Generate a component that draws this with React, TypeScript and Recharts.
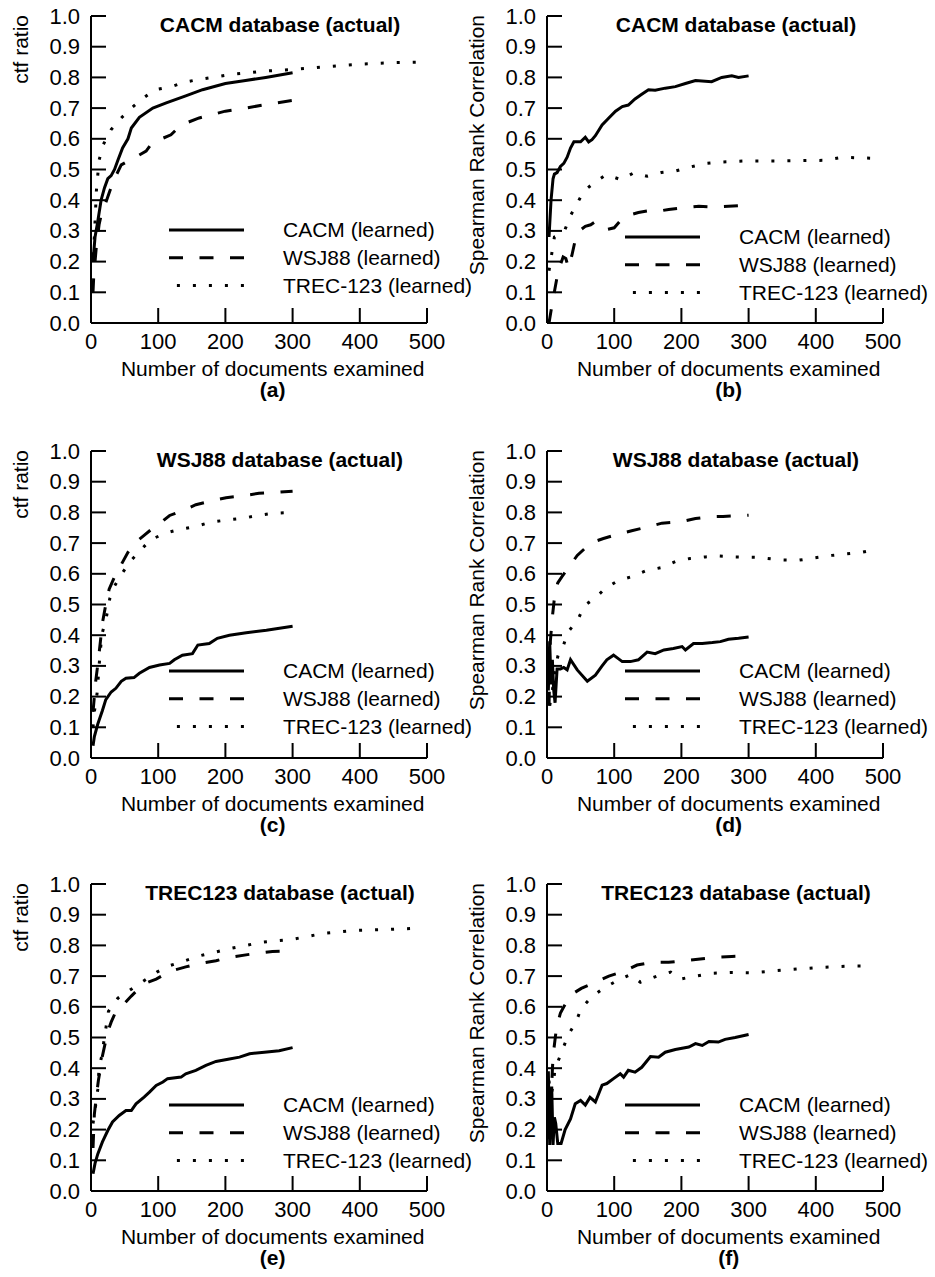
import React from "react";
import { LineChart, Line, XAxis, YAxis, Legend, Label } from "recharts";

const FONT = '"Liberation Sans", Arial, Helvetica, sans-serif';

const X_TICKS = [0, 100, 200, 300, 400, 500];
const Y_TICKS = [0, 0.1, 0.2, 0.3, 0.4, 0.5, 0.6, 0.7, 0.8, 0.9, 1.0];
const SERIES_NAMES = ["CACM (learned)", "WSJ88 (learned)", "TREC-123 (learned)"];

// [documents examined, value]
// (a) ctf ratio, CACM database
const A_CACM = [[3,0.20],[6,0.28],[10,0.33],[15,0.40],[20,0.44],[25,0.47],[30,0.48],[35,0.50],[40,0.53],[47,0.57],[55,0.60],[60,0.635],[72,0.67],[92,0.70],[112,0.717],[141,0.74],[166,0.76],[200,0.78],[230,0.79],[260,0.80],[300,0.815]];
const A_WSJ = [[3,0.10],[4,0.15],[8,0.25],[12,0.32],[15,0.35],[20,0.38],[28,0.43],[35,0.47],[45,0.515],[57,0.53],[70,0.545],[82,0.56],[92,0.59],[105,0.60],[119,0.613],[134,0.645],[161,0.668],[200,0.69],[230,0.70],[261,0.712],[300,0.725]];
const A_TREC = [[3,0.22],[5,0.28],[6,0.33],[7,0.38],[8,0.43],[10,0.48],[12,0.53],[18,0.58],[30,0.63],[45,0.668],[60,0.70],[78,0.733],[95,0.76],[120,0.77],[140,0.785],[165,0.795],[190,0.803],[210,0.81],[235,0.815],[255,0.82],[300,0.826],[350,0.835],[400,0.843],[450,0.848],[500,0.85]];

// (b) Spearman, CACM database
const B_CACM = [[3,0.28],[6,0.40],[9,0.47],[11,0.485],[15,0.49],[20,0.51],[25,0.52],[30,0.54],[35,0.57],[40,0.59],[50,0.59],[57,0.605],[62,0.59],[67,0.597],[72,0.61],[82,0.645],[92,0.668],[102,0.69],[112,0.705],[121,0.71],[131,0.73],[141,0.745],[151,0.76],[161,0.758],[176,0.765],[191,0.77],[206,0.78],[221,0.79],[245,0.786],[260,0.80],[275,0.805],[285,0.80],[300,0.805]];
const B_WSJ = [[3,0.0],[6,0.04],[10,0.09],[15,0.15],[20,0.19],[24,0.215],[28,0.21],[32,0.18],[37,0.22],[42,0.27],[48,0.30],[57,0.315],[65,0.32],[72,0.33],[80,0.32],[90,0.305],[100,0.31],[110,0.335],[120,0.35],[136,0.36],[150,0.365],[160,0.362],[181,0.37],[201,0.375],[226,0.38],[248,0.378],[270,0.38],[300,0.384]];
const B_TREC = [[3,0.17],[7,0.225],[11,0.28],[18,0.285],[26,0.30],[35,0.35],[45,0.39],[55,0.43],[72,0.46],[88,0.483],[110,0.467],[129,0.489],[149,0.478],[170,0.49],[191,0.495],[211,0.507],[236,0.52],[255,0.524],[296,0.528],[354,0.528],[414,0.53],[440,0.54],[490,0.536]];

// (c) ctf ratio, WSJ88 database
const C_CACM = [[3,0.04],[5,0.07],[10,0.11],[17,0.155],[22,0.19],[30,0.215],[37,0.227],[45,0.25],[52,0.26],[64,0.262],[72,0.276],[87,0.295],[102,0.303],[117,0.308],[124,0.32],[136,0.335],[151,0.34],[159,0.368],[176,0.373],[188,0.39],[206,0.40],[231,0.408],[261,0.416],[300,0.429]];
const C_WSJ = [[3,0.15],[5,0.20],[7,0.25],[11,0.32],[14,0.38],[17,0.44],[22,0.50],[27,0.55],[35,0.59],[45,0.63],[55,0.67],[65,0.70],[79,0.725],[90,0.745],[100,0.76],[117,0.79],[141,0.81],[156,0.825],[184,0.84],[201,0.848],[228,0.855],[250,0.862],[275,0.865],[300,0.869]];
const C_TREC = [[3,0.10],[5,0.15],[9,0.21],[12,0.30],[16,0.40],[23,0.46],[28,0.52],[35,0.56],[46,0.60],[58,0.64],[72,0.672],[88,0.71],[110,0.732],[133,0.745],[155,0.754],[178,0.768],[201,0.775],[224,0.78],[248,0.79],[271,0.797],[300,0.80]];

// (d) Spearman, WSJ88 database
const D_CACM = [[2,0.22],[4,0.38],[6,0.24],[8,0.32],[10,0.22],[12,0.18],[15,0.29],[20,0.29],[25,0.295],[30,0.287],[35,0.32],[45,0.287],[60,0.25],[72,0.27],[82,0.30],[89,0.32],[99,0.335],[112,0.314],[124,0.314],[136,0.32],[149,0.345],[161,0.34],[174,0.352],[188,0.357],[201,0.363],[206,0.352],[218,0.373],[231,0.373],[246,0.376],[258,0.379],[270,0.387],[285,0.39],[300,0.394]];
const D_WSJ = [[3,0.17],[5,0.38],[8,0.46],[12,0.54],[16,0.57],[22,0.59],[32,0.62],[45,0.66],[55,0.68],[64,0.70],[84,0.715],[107,0.73],[126,0.74],[154,0.755],[171,0.765],[201,0.77],[221,0.78],[243,0.786],[262,0.787],[300,0.791]];
const D_TREC = [[4,0.17],[8,0.22],[12,0.28],[16,0.33],[20,0.36],[25,0.37],[31,0.41],[46,0.45],[55,0.495],[72,0.522],[87,0.553],[106,0.578],[125,0.59],[147,0.61],[170,0.62],[191,0.64],[213,0.65],[236,0.655],[255,0.658],[280,0.655],[310,0.654],[349,0.645],[374,0.644],[424,0.66],[468,0.67],[491,0.68]];

// (e) ctf ratio, TREC123 database
const E_CACM = [[3,0.056],[6,0.09],[10,0.12],[17,0.16],[25,0.197],[32,0.225],[42,0.246],[52,0.262],[60,0.262],[67,0.284],[79,0.306],[87,0.322],[97,0.344],[107,0.355],[114,0.366],[134,0.371],[141,0.382],[156,0.393],[171,0.409],[186,0.422],[206,0.43],[221,0.436],[236,0.447],[258,0.452],[280,0.457],[300,0.467]];
const E_WSJ = [[3,0.14],[5,0.25],[8,0.31],[11,0.36],[17,0.44],[22,0.49],[25,0.52],[30,0.55],[35,0.575],[45,0.60],[60,0.635],[74,0.665],[85,0.68],[97,0.69],[109,0.705],[125,0.72],[141,0.73],[159,0.74],[186,0.75],[203,0.76],[233,0.77],[250,0.775],[270,0.78],[300,0.782]];
const E_TREC = [[3,0.22],[7,0.28],[10,0.33],[12,0.40],[16,0.44],[20,0.50],[26,0.585],[40,0.628],[57,0.653],[72,0.675],[98,0.713],[117,0.734],[140,0.75],[163,0.767],[185,0.778],[207,0.79],[231,0.80],[253,0.81],[275,0.815],[300,0.82],[348,0.84],[393,0.849],[440,0.852],[490,0.856]];

// (f) Spearman, TREC123 database
const F_CACM = [[2,0.39],[4,0.15],[7,0.34],[9,0.15],[11,0.24],[13,0.22],[16,0.155],[21,0.155],[27,0.20],[35,0.235],[42,0.284],[50,0.295],[57,0.28],[64,0.305],[72,0.29],[82,0.345],[89,0.35],[99,0.366],[109,0.382],[114,0.371],[121,0.393],[131,0.387],[141,0.403],[154,0.438],[166,0.436],[176,0.452],[191,0.461],[211,0.469],[221,0.48],[231,0.474],[241,0.487],[255,0.485],[265,0.494],[280,0.50],[300,0.51]];
const F_WSJ = [[3,0.17],[6,0.30],[9,0.44],[14,0.53],[20,0.58],[25,0.60],[32,0.625],[40,0.645],[51,0.66],[72,0.68],[92,0.70],[114,0.715],[134,0.736],[156,0.745],[181,0.745],[203,0.75],[228,0.756],[250,0.761],[275,0.764],[300,0.766]];
const F_TREC = [[3,0.36],[5,0.29],[7,0.32],[10,0.36],[12,0.40],[16,0.42],[23,0.46],[32,0.51],[43,0.55],[51,0.595],[67,0.633],[84,0.66],[104,0.685],[124,0.705],[139,0.68],[164,0.70],[184,0.713],[198,0.69],[221,0.70],[245,0.709],[275,0.712],[305,0.711],[354,0.72],[404,0.728],[456,0.733],[481,0.733]];

const DASHES = [undefined, "14 16.5", "3 13"];

// plot geometry inside each 470x420 chart
const PL = 91;
const PT = 16;
const PW = 336;
const PH = 307;
const PB = PT + PH;

const PANELS = [
  { title: "CACM database (actual)", yLabel: "ctf ratio", caption: "(a)", left: 0, top: 0, legendY: 214, series: [A_CACM, A_WSJ, A_TREC] },
  { title: "CACM database (actual)", yLabel: "Spearman Rank Correlation", caption: "(b)", left: 456, top: 0, legendY: 221, series: [B_CACM, B_WSJ, B_TREC] },
  { title: "WSJ88 database (actual)", yLabel: "ctf ratio", caption: "(c)", left: 0, top: 435, legendY: 220, series: [C_CACM, C_WSJ, C_TREC] },
  { title: "WSJ88 database (actual)", yLabel: "Spearman Rank Correlation", caption: "(d)", left: 456, top: 435, legendY: 220, series: [D_CACM, D_WSJ, D_TREC] },
  { title: "TREC123 database (actual)", yLabel: "ctf ratio", caption: "(e)", left: 0, top: 868, legendY: 221, series: [E_CACM, E_WSJ, E_TREC] },
  { title: "TREC123 database (actual)", yLabel: "Spearman Rank Correlation", caption: "(f)", left: 456, top: 868, legendY: 221, series: [F_CACM, F_WSJ, F_TREC] },
];

const toPts = (arr: number[][]) => arr.map(([x, y]) => ({ x, y }));

const YTick = (props: any) => {
  const { x, y, payload } = props;
  return (
    <g>
      <line x1={x} x2={x + 15} y1={y} y2={y} stroke="#000" strokeWidth={2} />
      <text x={x - 11} y={y + 7.5} textAnchor="end" fontSize={22} fill="#000" fontFamily={FONT}>
        {Number(payload.value).toFixed(1)}
      </text>
    </g>
  );
};

const XTick = (props: any) => {
  const { x, y, payload } = props;
  return (
    <g>
      <line x1={x} x2={x} y1={y} y2={y - 15} stroke="#000" strokeWidth={2} />
      <text x={x} y={y + 26} textAnchor="middle" fontSize={22} fill="#000" fontFamily={FONT}>
        {payload.value}
      </text>
    </g>
  );
};

const renderLegend = () => (
  <svg width={320} height={84} style={{ overflow: "visible", display: "block" }}>
    {SERIES_NAMES.map((name, i) => {
      const y = 14 + i * 27.8;
      return (
        <g key={name}>
          <line x1={i === 2 ? 7.9 : 0} x2={75} y1={y} y2={y} stroke="#000" strokeWidth={3} strokeDasharray={DASHES[i]} />
          <text x={114} y={y + 7.3} fontSize={21} fill="#000" fontFamily={FONT}>
            {name}
          </text>
        </g>
      );
    })}
  </svg>
);

function Panel({ p }: { p: any }) {
  return (
    <div style={{ position: "absolute", left: p.left, top: p.top, width: 470, height: 420 }}>
      <LineChart width={470} height={420} margin={{ top: PT, right: 470 - PL - PW, bottom: 17, left: 0 }}>
        <XAxis
          dataKey="x"
          type="number"
          domain={[0, 500]}
          ticks={X_TICKS}
          interval={0}
          height={80}
          tickSize={0}
          tickMargin={0}
          tickLine={false}
          tick={XTick}
          axisLine={{ stroke: "#000", strokeWidth: 2 }}
        >
          <Label
            content={() => (
              <g fontFamily={FONT} fill="#000">
                <text x={PL + 181.7} y={PB + 53} textAnchor="middle" fontSize={21}>
                  Number of documents examined
                </text>
                <text x={PL + 181.7} y={PB + 73.5} textAnchor="middle" fontSize={21} fontWeight="bold">
                  {p.caption}
                </text>
              </g>
            )}
          />
        </XAxis>
        <YAxis
          dataKey="y"
          type="number"
          domain={[0, 1]}
          ticks={Y_TICKS}
          interval={0}
          width={PL}
          tickSize={0}
          tickMargin={0}
          tickLine={false}
          tick={YTick}
          axisLine={{ stroke: "#000", strokeWidth: 2 }}
        >
          <Label
            content={() => (
              <g fontFamily={FONT} fill="#000">
                <text x={28} y={PT - 1} transform={`rotate(-90, 28, ${PT - 1})`} textAnchor="end" fontSize={21}>
                  {p.yLabel}
                </text>
                <text x={PL + 189} y={PT + 16} textAnchor="middle" fontSize={21} fontWeight="bold">
                  {p.title}
                </text>
              </g>
            )}
          />
        </YAxis>
        <Legend
          layout="vertical"
          align="center"
          verticalAlign="middle"
          content={renderLegend}
          wrapperStyle={{ left: PL + 78.3, top: PT + p.legendY - 14, width: 320, height: 84 }}
        />
        {p.series.map((d: number[][], i: number) => (
          <Line
            key={SERIES_NAMES[i]}
            data={toPts(d)}
            dataKey="y"
            name={SERIES_NAMES[i]}
            type="linear"
            stroke="#000"
            strokeWidth={3}
            strokeDasharray={DASHES[i]}
            dot={false}
            activeDot={false}
            isAnimationActive={false}
          />
        ))}
      </LineChart>
    </div>
  );
}

export default function App() {
  return (
    <div style={{ position: "absolute", left: 0, top: 0, width: 935, height: 1277, background: "#fff", fontFamily: FONT }}>
      {PANELS.map((p) => (
        <Panel key={p.caption} p={p} />
      ))}
    </div>
  );
}
